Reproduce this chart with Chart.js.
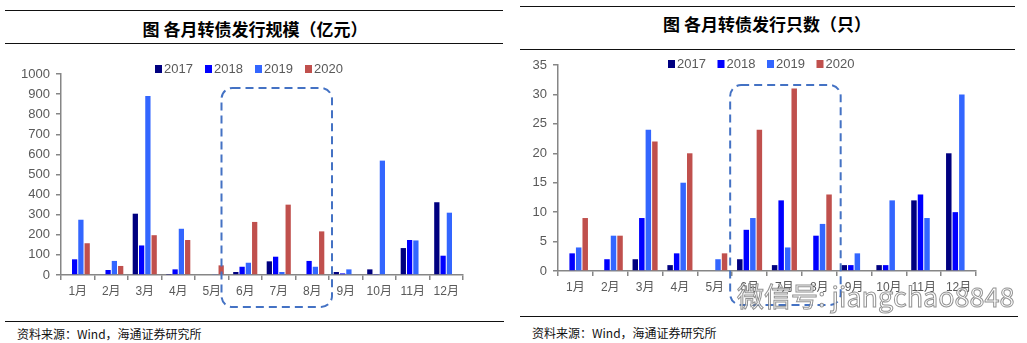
<!DOCTYPE html>
<html>
<head>
<meta charset="utf-8">
<script src="https://cdn.jsdelivr.net/npm/chart.js@4.4.1/dist/chart.umd.min.js"></script>
<style>
  body { margin: 0; width: 1027px; height: 343px; background: #fff; position: relative; overflow: hidden;
         font-family: "Liberation Sans", "Noto Sans CJK SC", sans-serif; }
  .rule { position: absolute; height: 0; border-top: 1.5px solid #111; }
  .title { position: absolute; font-family: "Noto Sans CJK SC", sans-serif; font-weight: 700; font-size: 17px;
           color: #000; white-space: nowrap; transform: translate(-50%, -50%); }
  .source { position: absolute; font-family: "Noto Sans CJK SC", sans-serif; font-size: 12px; color: #111;
            white-space: nowrap; transform: translateY(-50%); }
  canvas { position: absolute; }
  .wm { position: absolute; left: 737px; top: 295px; transform: translateY(-50%); font-family: "Noto Sans CJK SC", sans-serif;
        font-size: 27px; color: rgba(255,255,255,0.85); -webkit-text-stroke: 1px rgba(110,110,110,0.75); white-space: nowrap; }
</style>
</head>
<body>
<div class="rule" style="left:5px;width:498px;top:10px"></div>
<div class="title" style="left:255px;top:28px">图 各月转债发行规模（亿元）</div>
<div class="rule" style="left:5px;width:498px;top:43px"></div>
<canvas id="amount" width="510" height="265" style="left:0;top:50px"></canvas>
<div class="rule" style="left:5px;width:499px;top:321px"></div>
<div class="source" style="left:17px;top:333px">资料来源：Wind，海通证券研究所</div>

<div class="rule" style="left:520px;width:495px;top:6px"></div>
<div class="title" style="left:767px;top:23px">图 各月转债发行只数（只）</div>
<div class="rule" style="left:520px;width:495px;top:49px"></div>
<canvas id="count" width="512" height="262" style="left:515px;top:50px"></canvas>
<div class="rule" style="left:520px;width:498px;top:316px"></div>
<div class="source" style="left:532px;top:332px">资料来源：Wind，海通证券研究所</div>

<div class="wm">微信号: jiangchao8848</div>

<script>
const MONTHS = ["1月", "2月", "3月", "4月", "5月", "6月", "7月", "8月", "9月", "10月", "11月", "12月"];
const YEARS = ["2017", "2018", "2019", "2020"];
const YEAR_COLORS = ["#000080", "#0000FF", "#3366FF", "#C0504D"];

// 发行规模（亿元）
const AMOUNT_2017 = [0, 0, 305, 2, 0, 15, 68, 0, 15, 28, 134, 362];
const AMOUNT_2018 = [78, 25, 147, 28, 0, 41, 91, 70, 8, 5, 174, 96];
const AMOUNT_2019 = [275, 70, 890, 230, 3, 61, 15, 41, 28, 569, 172, 310];
const AMOUNT_2020 = [158, 45, 198, 174, 48, 264, 350, 217, null, null, null, null];
const AMOUNT_TICKS = { max: 1000, step: 100 };

// 发行只数（只）
const COUNT_2017 = [0, 0, 2, 1, 0, 2, 1, 0, 1, 1, 12, 20];
const COUNT_2018 = [3, 2, 9, 3, 0, 7, 12, 6, 1, 1, 13, 10];
const COUNT_2019 = [4, 6, 24, 15, 2, 9, 4, 8, 3, 12, 9, 30];
const COUNT_2020 = [9, 6, 22, 20, 3, 24, 31, 13, null, null, null, null];
const COUNT_TICKS = { max: 35, step: 5 };

const AXIS_GRAY = "#868686";
const LABEL_GRAY = "#595959";
const FONT = "'Liberation Sans', 'Noto Sans CJK SC', sans-serif";

// small square legend drawn at a fixed spot inside the plot
const squareLegend = {
  id: "squareLegend",
  afterDraw(chart, args, opts) {
    const ctx = chart.ctx;
    ctx.save();
    ctx.font = "13px " + FONT;
    ctx.textBaseline = "middle";
    chart.data.datasets.forEach((ds, i) => {
      const x = opts.x + i * opts.step;
      ctx.fillStyle = ds.backgroundColor;
      ctx.fillRect(x, opts.y - 4, 7, 8);
      ctx.fillStyle = LABEL_GRAY;
      ctx.fillText(ds.label, x + 9, opts.y + 0.5);
    });
    ctx.restore();
  },
};

// dashed rounded box around a run of months
const dashedBox = {
  id: "dashedBox",
  afterDraw(chart, args, opts) {
    const xs = chart.scales.x;
    const half = (xs.getPixelForValue(1) - xs.getPixelForValue(0)) / 2;
    const left = xs.getPixelForValue(opts.from) - half + opts.padLeft;
    const right = xs.getPixelForValue(opts.to) + half + opts.padRight;
    const top = opts.top, bottom = opts.bottom, r = 11;
    const ctx = chart.ctx;
    ctx.save();
    ctx.strokeStyle = "#4472C4";
    ctx.lineWidth = 2;
    ctx.setLineDash([8, 5]);
    ctx.beginPath();
    ctx.roundRect(left, top, right - left, bottom - top, r);
    ctx.stroke();
    ctx.restore();
  },
};

function buildChart(id, series, ticks, cfg) {
  const datasets = series.map((data, i) => ({
    label: YEARS[i],
    data: data,
    backgroundColor: YEAR_COLORS[i],
    borderWidth: 0,
    categoryPercentage: 0.75,
    barPercentage: 0.84,
  }));

  return new Chart(document.getElementById(id), {
    type: "bar",
    data: { labels: MONTHS, datasets },
    plugins: [squareLegend, dashedBox],
    options: {
      responsive: false,
      animation: false,
      layout: { padding: { left: 0, right: cfg.padRight, top: cfg.padTop, bottom: 0 } },
      scales: {
        x: {
          grid: { offset: true, drawOnChartArea: false, drawTicks: true, tickLength: 5, color: AXIS_GRAY, lineWidth: 1.5 },
          border: { color: AXIS_GRAY, width: 1.5 },
          ticks: { color: LABEL_GRAY, font: { family: FONT, size: 12 }, padding: 4, maxRotation: 0, autoSkip: false },
          afterFit: (s) => { s.height = cfg.xHeight; },
        },
        y: {
          min: 0,
          max: ticks.max,
          grid: { drawOnChartArea: false, drawTicks: true, tickLength: 5, color: AXIS_GRAY, lineWidth: 1.5 },
          border: { color: AXIS_GRAY, width: 1.5 },
          ticks: {
            stepSize: ticks.step, color: LABEL_GRAY, font: { family: FONT, size: 13 }, padding: 6,
            callback: (v) => String(v),
          },
          afterFit: (s) => { s.width = cfg.yWidth; },
        },
      },
      plugins: {
        legend: { display: false },
        tooltip: { enabled: false },
        squareLegend: cfg.legend,
        dashedBox: cfg.box,
      },
    },
  });
}

buildChart("amount", [AMOUNT_2017, AMOUNT_2018, AMOUNT_2019, AMOUNT_2020], AMOUNT_TICKS, {
  yWidth: 61, xHeight: 40, padRight: 47, padTop: 24,
  legend: { x: 155, y: 19, step: 50 },
  box: { from: 5, to: 7, padLeft: -7, padRight: 3, top: 38, bottom: 257 },
});

buildChart("count", [COUNT_2017, COUNT_2018, COUNT_2019, COUNT_2020], COUNT_TICKS, {
  yWidth: 43, xHeight: 41, padRight: 51, padTop: 15,
  legend: { x: 153, y: 14, step: 49.5 },
  box: { from: 5, to: 7, padLeft: -2, padRight: 4, top: 35, bottom: 255 },
});
</script>
</body>
</html>
